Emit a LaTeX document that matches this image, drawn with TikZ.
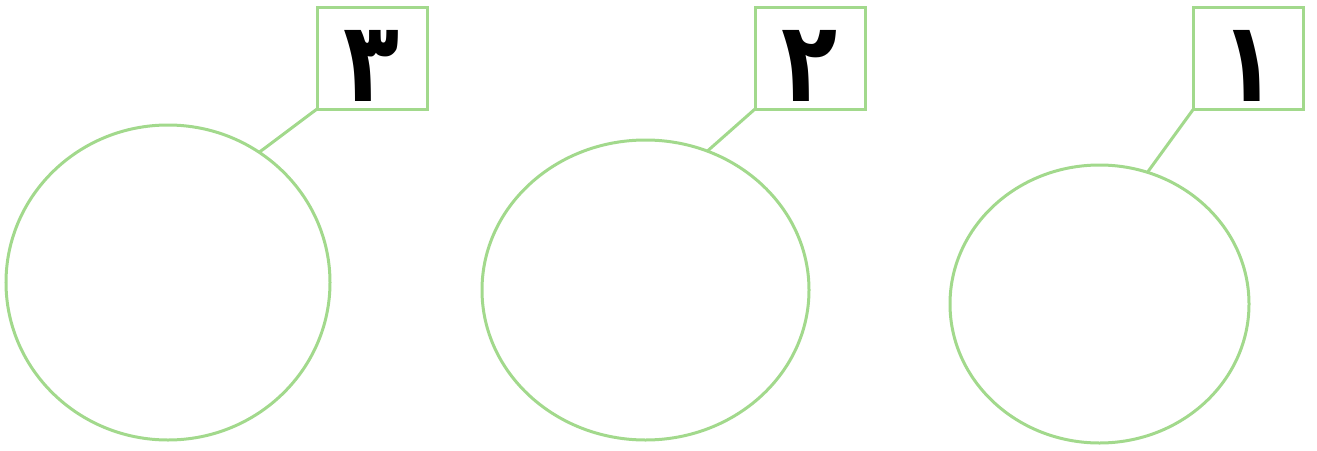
\documentclass[tikz,border=0pt]{standalone}
\usepackage{fontspec}
\usetikzlibrary{shapes.geometric}
\newfontfamily\arabicfont[Script=Arabic]{DejaVu Sans}
\definecolor{lg}{HTML}{A2D98C}
\begin{document}
\begin{tikzpicture}[x=1pt,y=-1pt,
  numbox/.style={draw=lg, line width=3pt, minimum width=110pt, minimum height=102pt, inner sep=0pt, outer sep=0pt},
  digit/.style={font=\arabicfont\bfseries\fontsize{112}{112}\selectfont, inner sep=0pt, anchor=base, xscale=0.82},
  ell/.style={draw=lg, ellipse, line width=3pt, inner sep=0pt, outer sep=0pt},
  conn/.style={draw=lg, line width=3pt}]
\useasboundingbox (0,0) rectangle (1317,450);
\node[numbox] (b3) at (372,58) {};
\node[numbox] (b2) at (810,58) {};
\node[numbox] (b1) at (1248.5,58) {};
\node[digit] (t3) at (372,101) {۳};
\node[digit] (t2) at (810,101) {۲};
\node[digit] (t1) at (1248.5,101) {۱};
\node[ell, minimum width=324pt, minimum height=315pt] (c3) at (168,282.5) {};
\node[ell, minimum width=327pt, minimum height=300pt] (c2) at (645.5,290) {};
\node[ell, minimum width=299pt, minimum height=278pt] (c1) at (1099.5,304) {};
\draw[conn] (b3.south west) -- (c3.55);
\draw[conn] (b2.south west) -- (c2.66);
\draw[conn] (b1.south west) -- (c1.70);
\end{tikzpicture}
\end{document}
